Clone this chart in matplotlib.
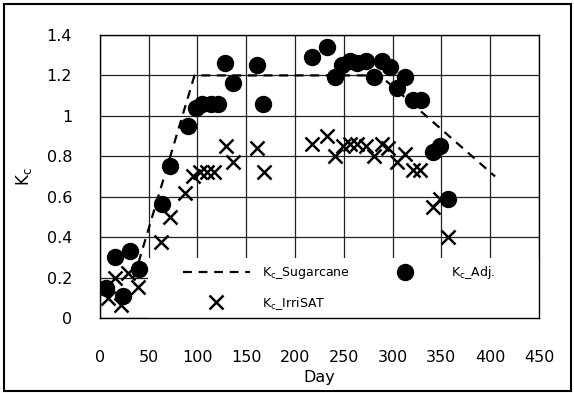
import matplotlib
matplotlib.use("Agg")
import matplotlib.pyplot as plt
from matplotlib.patches import Rectangle

# ==============
# Data
# ==============
# Kc curve for sugarcane (dashed line)
sugar_day = [35, 97, 287, 405]
sugar_kc = [0.2, 1.2, 1.2, 0.70]

# adjusted Kc (filled circles)
adj_day = [6, 16, 24, 31, 40, 64, 72, 90, 98, 105, 114, 121, 128, 136, 161, 167,
           217, 233, 241, 248, 256, 264, 273, 281, 289, 297, 304, 313, 321, 329,
           341, 349, 357]
adj_kc = [0.15, 0.30, 0.11, 0.33, 0.24, 0.565, 0.75, 0.95, 1.04, 1.06, 1.06, 1.06,
          1.26, 1.16, 1.25, 1.06,
          1.29, 1.34, 1.19, 1.25, 1.27, 1.26, 1.27, 1.19, 1.27, 1.24, 1.14, 1.19,
          1.08, 1.08, 0.82, 0.85, 0.59]

# IrriSAT Kc (crosses)
irr_day = [8, 15, 22, 29, 39, 63, 72, 87, 95, 103, 110, 117, 129, 136, 161, 168,
           217, 233, 241, 249, 256, 264, 273, 281, 289, 295, 304, 313, 321, 328,
           341, 349, 357]
irr_kc = [0.10, 0.20, 0.065, 0.22, 0.155, 0.375, 0.50, 0.62, 0.70, 0.72, 0.72, 0.72,
          0.85, 0.77, 0.84, 0.72,
          0.86, 0.90, 0.80, 0.85, 0.86, 0.86, 0.85, 0.80, 0.86, 0.84, 0.77, 0.81,
          0.73, 0.73, 0.55, 0.59, 0.40]

x_ticks = [0, 50, 100, 150, 200, 250, 300, 350, 400, 450]
y_ticks = [0, 0.2, 0.4, 0.6, 0.8, 1.0, 1.2, 1.4]
y_labels = ["0", "0.2", "0.4", "0.6", "0.8", "1", "1.2", "1.4"]

# ==============
# Plot
# ==============
plt.rcParams["font.family"] = "DejaVu Sans"
fig = plt.figure(figsize=(5.74, 3.93), dpi=100)
ax = fig.add_axes([0.174, 0.191, 0.765, 0.720])

ax.plot(sugar_day, sugar_kc, color="black", linestyle=(0, (4, 3)), linewidth=1.6,
        label=r"K$_\mathregular{c}$_Sugarcane", zorder=3)
ax.plot(irr_day, irr_kc, linestyle="none", marker="x", markersize=10,
        markeredgewidth=1.8, color="black", label=r"K$_\mathregular{c}$_IrriSAT", zorder=4)
ax.plot(adj_day, adj_kc, linestyle="none", marker="o", markersize=11.5,
        color="black", label=r"K$_\mathregular{c}$_Adj.", zorder=5)

ax.set_xlim(0, 450)
ax.set_ylim(0, 1.4)
ax.set_xticks(x_ticks)
ax.set_yticks(y_ticks)
ax.set_yticklabels(y_labels)
ax.tick_params(length=0, labelsize=11.5)
ax.tick_params(axis="x", pad=23)
ax.tick_params(axis="y", pad=20)
ax.grid(True, color="#222222", linewidth=0.9)
ax.set_axisbelow(True)
for s in ax.spines.values():
    s.set_color("black")
    s.set_linewidth(1.0)

ax.set_xlabel("Day", fontsize=11.5, labelpad=4)
ax.set_ylabel(r"K$_\mathregular{c}$", fontsize=12, labelpad=9)

# white legend area over the lower part of the grid
ax.add_patch(Rectangle((49, 0), 401, 0.297, facecolor="white", edgecolor="none",
                       zorder=2.5))

leg = ax.legend(ncol=2, loc="lower left", bbox_to_anchor=(0.189, 0.022),
                frameon=False, fontsize=9, handlelength=5.36, handletextpad=0.96,
                columnspacing=1.76, borderpad=0, labelspacing=1.1,
                borderaxespad=0)
leg.set_zorder(6)

# outer frame around the chart
fig.patches.append(Rectangle((0.007, 0.006), 0.988, 0.984, transform=fig.transFigure,
                             fill=False, edgecolor="black", linewidth=1.5))

plt.savefig("out.png", dpi=100)
